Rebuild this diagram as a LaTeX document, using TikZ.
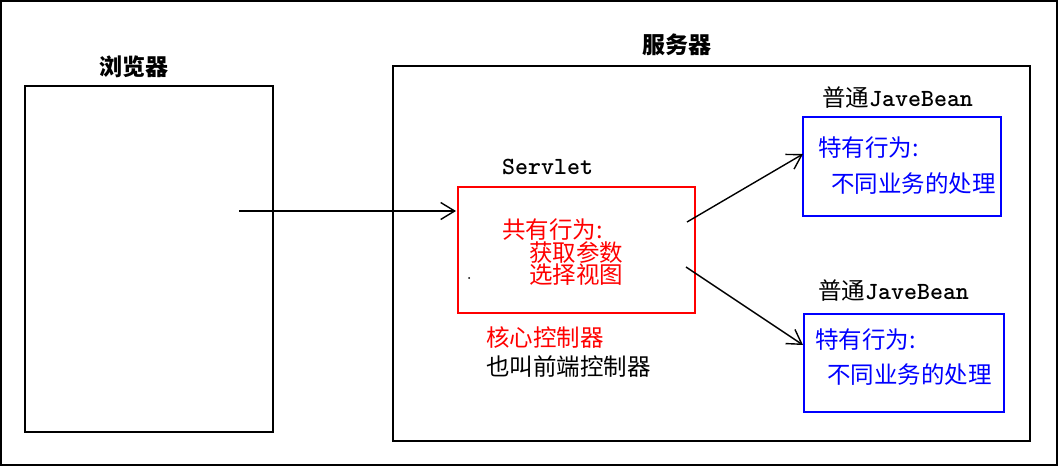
\documentclass[tikz,border=0pt]{standalone}
\usepackage{fontspec}
\newfontfamily\cjk{Noto Sans CJK SC}
\usetikzlibrary{arrows.meta}
\tikzset{
  box/.style={draw, line width=2pt},
  txt/.style={anchor=west, inner sep=0pt, font=\cjk\fontsize{23.5}{25}\selectfont},
  head/.style={anchor=center, inner sep=0pt, font=\cjk\bfseries\fontsize{23}{25}\selectfont},
  lat/.style={anchor=west, inner sep=0pt},
  latfont/.style={font=\ttfamily\fontsize{24.7}{26}\selectfont},
}
\tikzset{
  conn/.style={line width=1.4pt, -{Straight Barb[length=14pt,width=17pt,line width=1.4pt]}},
}
\newcommand\cjkpart[1]{{\cjk\fontsize{23.5}{25}\selectfont #1}}
\newcommand\ttpart[1]{{\ttfamily\bfseries\fontsize{24.7}{26}\selectfont #1}}
\begin{document}
\begin{tikzpicture}[x=1pt,y=-1pt]
\useasboundingbox (0,0) rectangle (1059,466);
\draw[line width=1.2pt] (1,1) rectangle (1057,465);
% browser
\draw[box] (25,86) rectangle (273,432);
\node[head] (bl) at (134,67) {浏览器};
\coordinate (bstart) at (239,211);
% server
\draw[box] (393,66) rectangle (1030,441);
\node[head] (sl) at (677,45) {服务器};
% servlet
\draw[box, red] (458,187) rectangle (695,313);
\coordinate (sin) at (456,211);
\node[lat] (servlet) at (502,167) {\ttpart{Servlet}};
\node[txt, red] (t1) at (502,230) {共有行为:};
\node[txt, red] (t2) at (529,253) {获取参数};
\node[txt, red] (t3) at (529,275) {选择视图};
\fill (469,278) circle (1pt);
\node[txt, red] (c1) at (486,338) {核心控制器};
\node[txt] (c2) at (486,367) {也叫前端控制器};
\draw[conn] (bstart) -- (sin);
% bean 1
\draw[box, blue] (803,117) rectangle (1001,216);
\node[lat] (b1l) at (822,98) {\cjkpart{普通}\ttpart{JaveBean}};
\node[txt, blue] (b1a) at (818,148) {特有行为:};
\node[txt, blue] (b1b) at (831,184) {不同业务的处理};
% bean 2
\draw[box, blue] (804,314) rectangle (1004,412);
\node[lat] (b2l) at (818,291) {\cjkpart{普通}\ttpart{JaveBean}};
\node[txt, blue] (b2a) at (815,340) {特有行为:};
\node[txt, blue] (b2b) at (827,375) {不同业务的处理};
% arrows
\coordinate (o1) at (687,222);
\coordinate (e1) at (803,154);
\coordinate (o2) at (686,267);
\coordinate (e2) at (803,345);
\draw[conn] (o1) -- (e1);
\draw[conn] (o2) -- (e2);
\end{tikzpicture}
\end{document}
